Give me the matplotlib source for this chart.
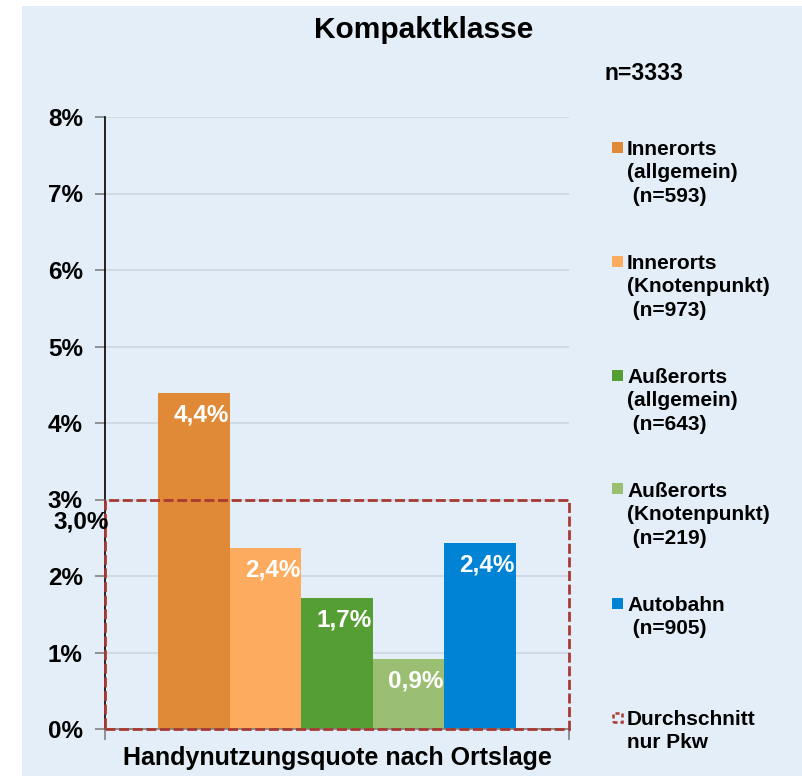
import matplotlib
matplotlib.use("Agg")
import matplotlib.pyplot as plt
from matplotlib.patches import Rectangle

plt.rcParams['font.family'] = ['Liberation Sans', 'DejaVu Sans']
plt.rcParams['font.weight'] = 'bold'

title = "Kompaktklasse"
sample_note = "n=3333"
xlabel = "Handynutzungsquote nach Ortslage"
series_labels = [
    "Innerorts\n(allgemein)\n (n=593)",
    "Innerorts\n(Knotenpunkt)\n (n=973)",
    "Außerorts\n(allgemein)\n (n=643)",
    "Außerorts\n(Knotenpunkt)\n (n=219)",
    "Autobahn\n (n=905)",
]
values = [4.39, 2.37, 1.71, 0.92, 2.43]
colors = ["#E08A38", "#FDAC5F", "#559E33", "#9BBF72", "#0083D5"]
average_value = 3.0
average_label = "Durchschnitt\nnur Pkw"
yticks = [0, 1, 2, 3, 4, 5, 6, 7, 8]

BG = "#E4EEF8"
RED = "#A83A32"

fig = plt.figure(figsize=(8.02, 7.76), dpi=100)
fig.patch.set_facecolor("white")
W, H = 802, 776
fig.patches.append(Rectangle((22 / W, 0), 1 - 22 / W, 1 - 6 / H, transform=fig.transFigure,
                             facecolor=BG, edgecolor="none", zorder=-10))

ax = fig.add_axes([105 / W, 1 - 729 / H, (569 - 105) / W, (729 - 117) / H])
ax.set_facecolor("none")

n = len(values)
bw = 0.154
xs = [-(n - 1) / 2 * bw + i * bw for i in range(n)]
ax.set_xlim(-0.5, 0.5)
ax.set_ylim(0, 8)

for x, v, c in zip(xs, values, colors):
    ax.bar(x, v, width=bw, color=c, edgecolor="none", zorder=2)
    ax.annotate(f"{v:.1f}%".replace(".", ","), xy=(x + bw / 2, v), xytext=(-1, -22),
                textcoords="offset pixels", ha="right", va="center",
                color="white", fontsize=17.5, fontweight="bold", zorder=4)

# average rectangle
ax.add_patch(Rectangle((-0.5, 0), 1.0, average_value, fill=False, edgecolor=RED,
                       linestyle=(0, (3.6, 1.3)), linewidth=2.0, zorder=3, clip_on=False))
ax.annotate(f"{average_value:.1f}%".replace(".", ","), xy=(-0.5, average_value), xytext=(4, -23),
            textcoords="offset pixels", ha="right", va="center", color="black",
            fontsize=17.5, fontweight="bold", zorder=5, annotation_clip=False)

ax.set_yticks(yticks)
ax.set_yticklabels([f"{t}%" for t in yticks], fontsize=17.5, fontweight="bold")
ax.yaxis.grid(True, color="#CDD6E0", linewidth=1.2, zorder=0)
ax.set_axisbelow(True)
ax.tick_params(axis="y", length=7, width=1.2, color="#808080", pad=9)
ax.set_xticks([-0.5, 0.5])
ax.set_xticklabels(["", ""])
ax.tick_params(axis="x", length=8, width=1.2, color="#808080")
for s in ["top", "right"]:
    ax.spines[s].set_visible(False)
ax.spines["left"].set_color("black")
ax.spines["left"].set_linewidth(1.2)
ax.spines["bottom"].set_color("#808080")
ax.spines["bottom"].set_linewidth(1.2)

ax.set_xlabel(xlabel, fontsize=18, fontweight="bold", labelpad=1)

fig.text(424 / W, 1 - 30 / H, title, ha="center", va="center", fontsize=21.5, fontweight="bold")
fig.text(604 / W, 1 - 73 / H, sample_note, ha="left", va="center", fontsize=16.5, fontweight="bold")

# legend
leg_y0 = 147
leg_dy = 114
for i, (lab, c) in enumerate(zip(series_labels, colors)):
    yc = leg_y0 + i * leg_dy
    fig.patches.append(Rectangle((612 / W, 1 - (yc + 5.5) / H), 11 / W, 11 / H,
                                 transform=fig.transFigure, facecolor=c, edgecolor="none"))
    fig.text(627 / W, 1 - (yc - 7) / H, lab, ha="left", va="top", fontsize=15,
             fontweight="bold", linespacing=1.3)
yc = leg_y0 + n * leg_dy
fig.patches.append(Rectangle((613 / W, 1 - (yc + 4.5) / H), 9 / W, 9 / H,
                             transform=fig.transFigure, facecolor="none", edgecolor=RED,
                             linewidth=1.8, linestyle=(0, (1.6, 1.2))))
fig.text(627 / W, 1 - (yc - 7) / H, average_label, ha="left", va="top", fontsize=15,
         fontweight="bold", linespacing=1.3)

fig.savefig("out.png", dpi=100)
